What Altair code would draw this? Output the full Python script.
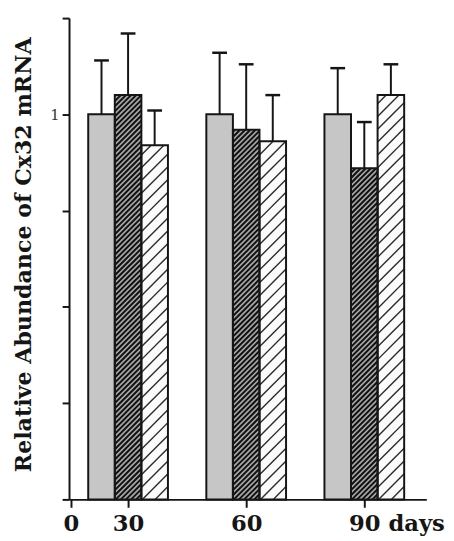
import altair as alt
import pandas as pd

# ---------------- data ----------------
days = [30, 60, 90]
series_names = ["Control", "Treatment A", "Treatment B"]
control_mean = [1.00, 1.00, 1.00]
control_err = [0.14, 0.16, 0.12]
treat_a_mean = [1.05, 0.96, 0.86]
treat_a_err = [0.16, 0.17, 0.12]
treat_b_mean = [0.92, 0.93, 1.05]
treat_b_err = [0.09, 0.12, 0.08]

y_tick_values = [0, 0.25, 0.5, 0.75, 1.0, 1.25]
y_tick_labels = ["", "", "", "", "1", ""]
x_tick_values = [15.5, 30, 60, 90]          # first tick marks the origin
x_tick_labels = ["0", "30", "60", "90 days"]
y_title = "Relative Abundance of Cx32 mRNA"

# ---------------- layout / style ----------------
W, H = 363, 489
XDOM = [15, 105.75]
YDOM = [0, 1.25]
KX = W / (XDOM[1] - XDOM[0])      # px per x unit
KY = H / (YDOM[1] - YDOM[0])      # px per y unit
BW = 27 / KX                      # bar width in x units
CAP = 7.5 / KX                    # half cap width in x units
SLOPE = KX / KY                   # 45 degree hatch in data units
FONT = "DejaVu Serif"
INK = "#151515"

means = [control_mean, treat_a_mean, treat_b_mean]
errs = [control_err, treat_a_err, treat_b_err]
rows = []
for i, s in enumerate(series_names):
    for j, d in enumerate(days):
        rows.append({"day": d, "series": s, "idx": i,
                     "value": means[i][j], "err": errs[i][j]})
df = pd.DataFrame(rows)


def label_expr(values, labels):
    e = "''"
    for v, l in reversed(list(zip(values, labels))):
        e = f"datum.value == {v} ? '{l}' : ({e})"
    return e


xscale = alt.Scale(domain=XDOM, nice=False, zero=False)
yscale = alt.Scale(domain=YDOM, nice=False, zero=False)

x_axis = alt.Axis(
    values=x_tick_values,
    labelExpr=label_expr(x_tick_values, x_tick_labels),
    grid=False, tickSize=8, labelPadding=6,
    labelFont=FONT, labelFontSize=23, labelFontWeight="bold", labelColor=INK,
    labelAlign={"condition": {"test": "datum.value == 90", "value": "left"}, "value": "center"},
    labelOffset={"condition": {"test": "datum.value == 90", "value": -16}, "value": 0},
    labelFlush=False, labelOverlap=False,
)
y_axis = alt.Axis(
    values=y_tick_values,
    labelExpr=label_expr(y_tick_values, y_tick_labels),
    grid=False, tickSize=7, labelPadding=3,
    labelFont=FONT, labelFontSize=15, labelFontWeight="normal", labelColor="#333333",
    titleFont=FONT, titleFontSize=22.5, titleFontWeight="bold", titleColor=INK,
    titleX=-46, titleY=240, titleAngle=270, titleAlign="center", titleBaseline="middle",
    labelFlush=False, labelOverlap=False,
)


def X(f):
    return alt.X(f"{f}:Q", scale=xscale, axis=x_axis, title=None)


def Y(f):
    return alt.Y(f"{f}:Q", scale=yscale, axis=y_axis, title=y_title)


base = alt.Chart(df).transform_calculate(
    xc=f"datum.day + (datum.idx - 1) * {BW}",
    x0=f"datum.day + (datum.idx - 1) * {BW} - {BW / 2}",
    x1=f"datum.day + (datum.idx - 1) * {BW} + {BW / 2}",
    zero="0",
    top="datum.value + datum.err",
    cl=f"datum.day + (datum.idx - 1) * {BW} - {CAP}",
    cr=f"datum.day + (datum.idx - 1) * {BW} + {CAP}",
)

fills = base.mark_rect(strokeWidth=0).encode(
    x=X("x0"), x2="x1", y=Y("zero"), y2="value",
    color=alt.Color("series:N", legend=None,
                    scale=alt.Scale(domain=series_names,
                                    range=["#c6c6c6", "#a8a8a8", "#fbfbfb"])),
)


def hatch(idx, spacing_px, color, width):
    sp = spacing_px / KY
    return base.transform_filter(f"datum.idx == {idx}").transform_calculate(
        k="sequence(0, 140)"
    ).transform_flatten(["k"]).transform_calculate(
        c=f"{-SLOPE * BW} + datum.k * {sp}",
    ).transform_calculate(
        ce=f"datum.c + {SLOPE * BW}",
    ).transform_filter(
        "datum.c < datum.value && datum.ce > 0"
    ).transform_calculate(
        hx0=f"datum.c >= 0 ? datum.x0 : datum.x0 - datum.c / {SLOPE}",
        hy0="max(datum.c, 0)",
        hx1=f"datum.ce <= datum.value ? datum.x1 : datum.x0 + (datum.value - datum.c) / {SLOPE}",
        hy1="min(datum.ce, datum.value)",
    ).mark_rule(color=color, strokeWidth=width).encode(
        x=X("hx0"), x2="hx1", y=Y("hy0"), y2="hy1",
    )


hatch_dark = hatch(1, 5.2, "#111111", 2.0)
hatch_light = hatch(2, 13, "#2a2a2a", 1.4)

outlines = base.mark_rect(filled=False, stroke=INK, strokeWidth=2).encode(
    x=X("x0"), x2="x1", y=Y("zero"), y2="value",
)
err_lines = base.mark_rule(color=INK, strokeWidth=2).encode(
    x=X("xc"), y=Y("value"), y2="top",
)
caps = base.mark_rule(color=INK, strokeWidth=2.5).encode(
    x=X("cl"), x2="cr", y=Y("top"),
)

chart = alt.layer(fills, hatch_dark, hatch_light, outlines, err_lines, caps).properties(
    width=W, height=H,
    autosize=alt.AutoSizeParams(type="none"),
    padding={"left": 62, "top": 6, "right": 20, "bottom": 37},
    background="white",
).configure_view(stroke=None).configure_axis(
    domainColor=INK, domainWidth=2, tickColor=INK, tickWidth=2,
)

chart.save("out.html", embed_options={"renderer": "svg", "actions": False})
